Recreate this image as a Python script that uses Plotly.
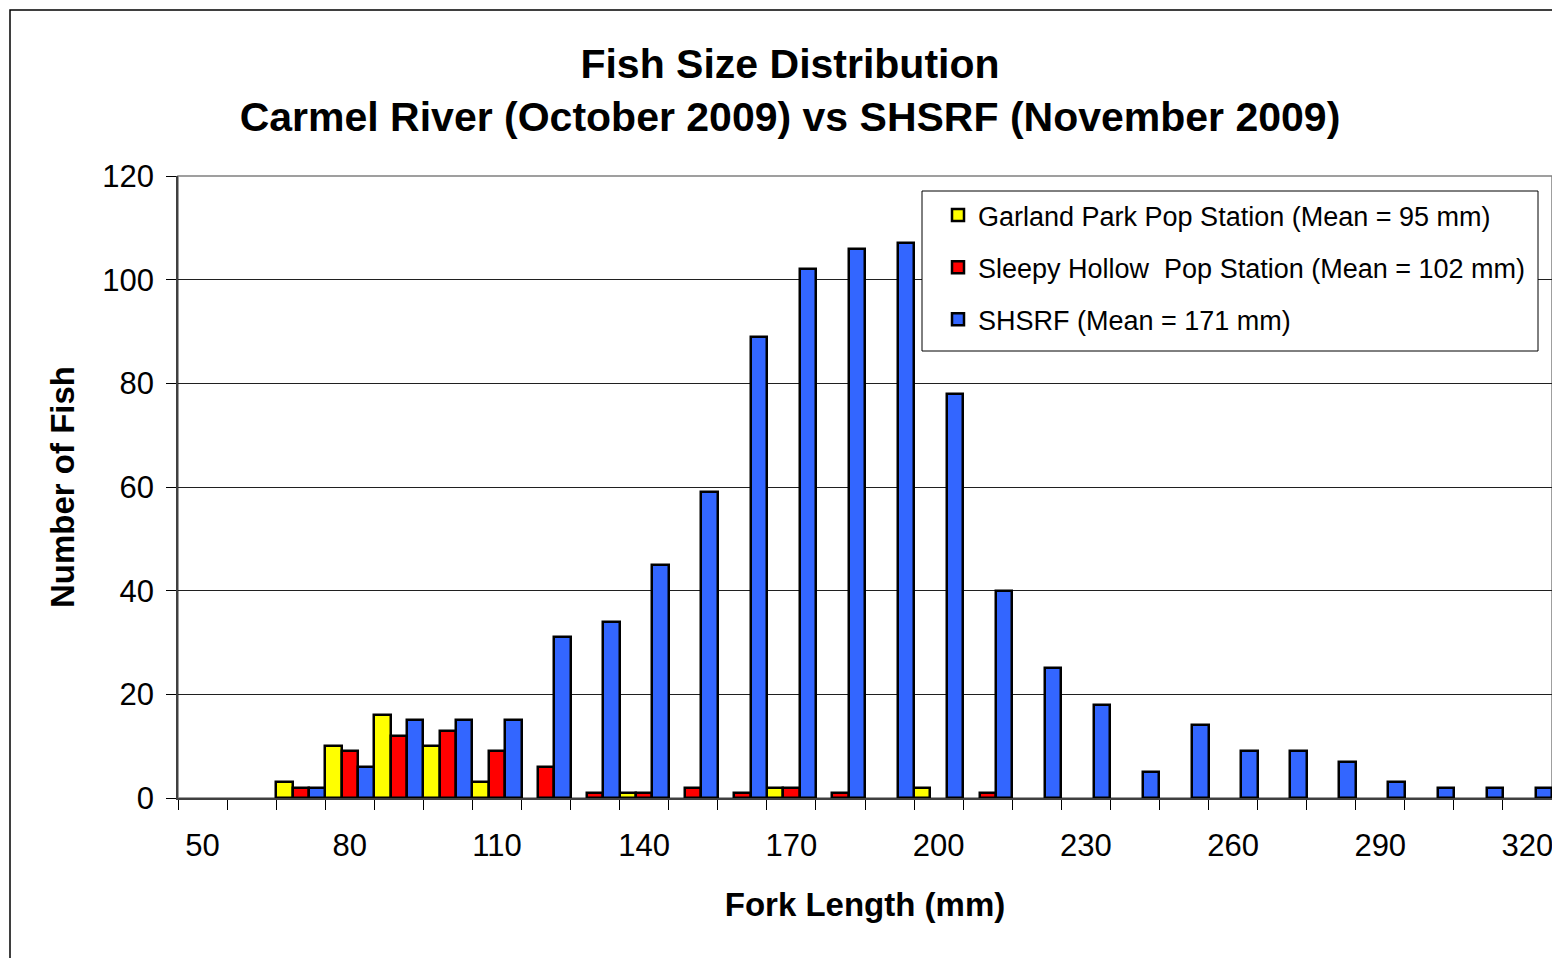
import plotly.graph_objects as go

# Fork length classes (mm) along the x axis
fork_length = [50, 60, 70, 80, 90, 100, 110, 120, 130, 140, 150, 160, 170, 180,
               190, 200, 210, 220, 230, 240, 250, 260, 270, 280, 290, 300, 310, 320]

# Number of fish in each length class
garland_park = [0, 0, 3, 10, 16, 10, 3, 0, 0, 1, 0, 0, 2, 0,
                0, 2, 0, 0, 0, 0, 0, 0, 0, 0, 0, 0, 0, 0]
sleepy_hollow = [0, 0, 2, 9, 12, 13, 9, 6, 1, 1, 2, 1, 2, 1,
                 0, 0, 1, 0, 0, 0, 0, 0, 0, 0, 0, 0, 0, 0]
shsrf = [0, 0, 2, 6, 15, 15, 15, 31, 34, 45, 59, 89, 102, 106,
         107, 78, 40, 25, 18, 5, 14, 9, 9, 7, 3, 2, 2, 2]

# Only every third class gets a label on the axis
tick_labels = ["50", "80", "110", "140", "170", "200", "230", "260", "290", "320"]

series_names = ["Garland Park Pop Station (Mean = 95 mm)",
                "Sleepy Hollow  Pop Station (Mean = 102 mm)",
                "SHSRF (Mean = 171 mm)"]
series_values = [garland_park, sleepy_hollow, shsrf]
series_colors = ["#FFFF00", "#FF0000", "#3366FF"]

FONT = "Liberation Sans, Arial, sans-serif"

categories = [str(v) for v in fork_length]
ticktext = [c if c in tick_labels else "" for c in categories]

fig = go.Figure()
for i, (name, vals, col) in enumerate(zip(series_names, series_values, series_colors)):
    # zero counts are left empty so no flat outline is drawn on the axis
    fig.add_trace(go.Bar(
        x=categories, y=[v if v else None for v in vals], name=name,
        legendgroup=str(i),
        marker=dict(color=col, line=dict(color="black", width=2.5)),
    ))

# plot area frame (gray) and outer chart frame (black)
fig.add_shape(type="rect", xref="paper", yref="paper", x0=0, x1=1, y0=0, y1=1,
              line=dict(color="#808080", width=1.5), layer="below")
fig.add_shape(type="rect", xref="paper", yref="paper",
              x0=(10 - 178) / 1374, x1=1.2, y0=-0.5, y1=(798 - 10) / 622,
              line=dict(color="black", width=1.5), fillcolor="rgba(0,0,0,0)")
# legend box
fig.add_shape(type="rect", xref="paper", yref="paper",
              x0=(922 - 178) / 1374, x1=(1538 - 178) / 1374,
              y0=(798 - 351) / 622, y1=(798 - 191) / 622,
              line=dict(color="black", width=1), fillcolor="white", layer="above")

# the page body adds an 8px offset, so margins are shifted to compensate
fig.update_layout(
    width=1560, height=958,
    margin=dict(l=170, r=16, t=168, b=168),
    paper_bgcolor="white", plot_bgcolor="white",
    font=dict(family=FONT, color="black"),
    barmode="group", bargap=0, bargroupgap=0,
    title=dict(
        text="<b>Fish Size Distribution<br>Carmel River (October 2009) vs SHSRF (November 2009)</b>",
        x=782 / 1560, xanchor="center", xref="container",
        y=1 - 70 / 958, yanchor="middle", yref="container",
        font=dict(size=41, family=FONT),
    ),
    legend=dict(
        x=(938 - 178) / 1374, y=(798 - 191) / 622, xanchor="left", yanchor="top",
        bgcolor="rgba(0,0,0,0)", borderwidth=0,
        font=dict(size=27, family=FONT),
        tracegroupgap=14, traceorder="grouped",
    ),
    showlegend=True,
)

fig.update_xaxes(
    type="category", tickmode="array", tickvals=categories, ticktext=ticktext,
    tickson="boundaries", ticks="outside", ticklen=10, tickcolor="black",
    tickangle=0, automargin=False,
    showline=True, linecolor="#404040", linewidth=1.5,
    showgrid=False, tickfont=dict(size=31),
    ticklabelstandoff=19,
    title=dict(text="<b>Fork Length (mm)</b>", font=dict(size=33), standoff=31),
)
fig.update_yaxes(
    range=[0, 120], dtick=20, ticks="outside", ticklen=10, tickcolor="black",
    automargin=False,
    showline=True, linecolor="#404040", linewidth=1.5,
    showgrid=True, gridcolor="#202020", gridwidth=1,
    zeroline=False, tickfont=dict(size=31),
    ticklabelstandoff=6,
    title=dict(text="<b>Number of Fish</b>", font=dict(size=33), standoff=18),
)

fig.write_html("out.html")
